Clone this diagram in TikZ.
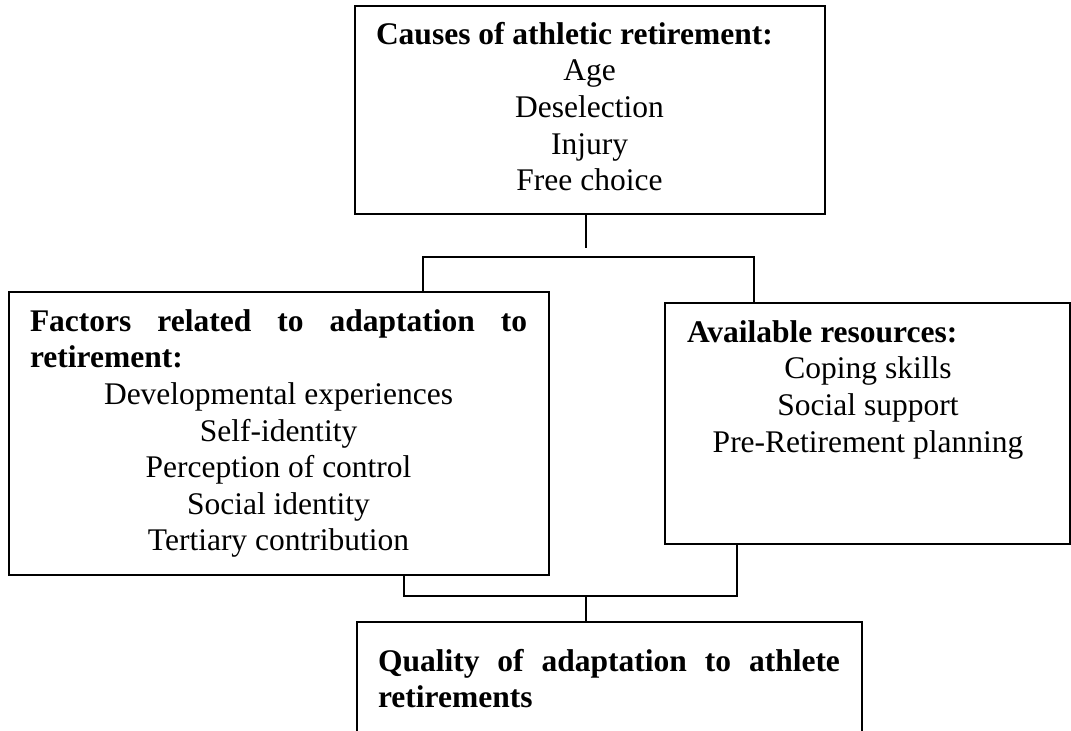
\documentclass[tikz,border=0pt]{standalone}
\usepackage{fontspec}
\setmainfont{Liberation Serif}
\usetikzlibrary{positioning}
\setlength{\parindent}{0pt}
\tolerance=10000 \hbadness=10000
\hyphenpenalty=10000 \exhyphenpenalty=10000

\begin{document}
\begin{tikzpicture}[x=0.5pt,y=-0.5pt,line width=0.7pt,
  box/.style={draw,rectangle,inner sep=0pt},
  txt/.style={anchor=base west,inner sep=0pt,align=justify,
    font=\fontsize{15.75}{18.3}\selectfont}]
\clip (0,0) rectangle (1071,730);
% boxes
\node[box,minimum width=235pt,minimum height=104pt] (causes) at (590,110) {};
\node[box,minimum width=270pt,minimum height=141.5pt] (factors) at (279,433.5) {};
\node[box,minimum width=202.5pt,minimum height=120.5pt] (resources) at (867.5,423.5) {};
\node[box,minimum width=252.5pt,minimum height=89pt] (quality) at (609.5,711) {};
% texts
\node[txt,text width=213.5pt,xshift=10.5pt,yshift=-19.5pt] (causestxt) at (causes.north west)
  {\textbf{Causes of athletic retirement:}\par\centering Age\\Deselection\\Injury\\Free choice\par};
\node[txt,text width=248.5pt,xshift=10.5pt,yshift=-20pt] (factorstxt) at (factors.north west)
  {\textbf{Factors related to adaptation to retirement:}\par\centering Developmental experiences\\Self-identity\\Perception of control\\Social identity\\Tertiary contribution\par};
\node[txt,text width=181pt,xshift=11pt,yshift=-20pt] (resourcestxt) at (resources.north west)
  {\textbf{Available resources:}\par\centering Coping skills\\Social support\\Pre-Retirement planning\par};
\node[txt,text width=231pt,xshift=10.5pt,yshift=-25pt] (qualitytxt) at (quality.north west)
  {\textbf{Quality of adaptation to athlete retirements}\par};
% connectors
\coordinate (drop) at (586,248);
\coordinate (topL) at (423,257);
\coordinate (topR) at (754,257);
\coordinate (botL) at (404,596);
\coordinate (botR) at (737,596);
\coordinate (join) at (586,596);
\draw (drop |- causes.south) -- (drop);
\draw (topL |- factors.north) -- (topL) -- (topR) -- (topR |- resources.north);
\draw (botL |- factors.south) -- (botL) -- (botR) -- (botR |- resources.south);
\draw (join) -- (join |- quality.north);
\end{tikzpicture}
\end{document}
